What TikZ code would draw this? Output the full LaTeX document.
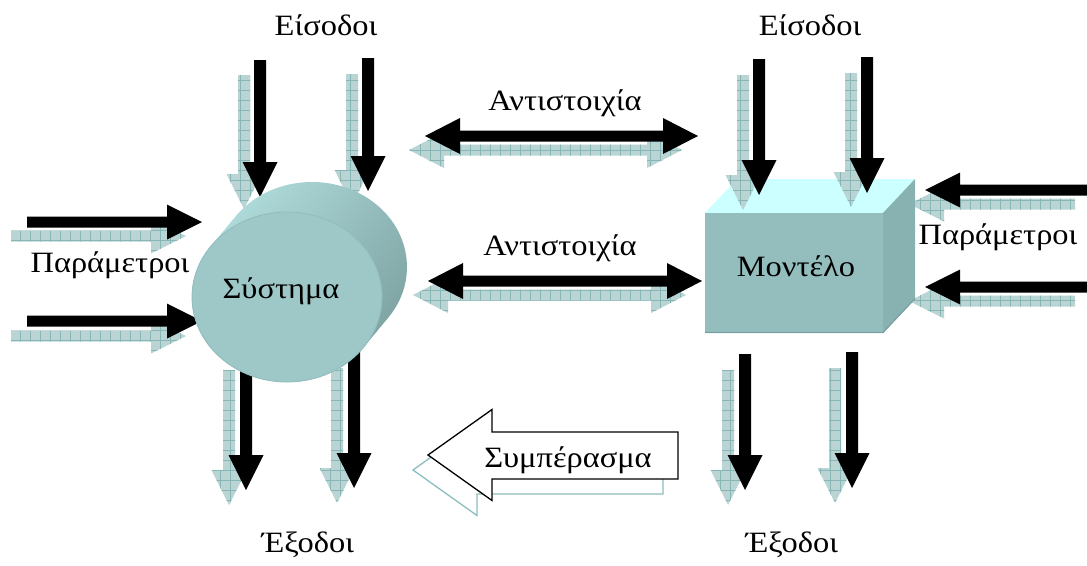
\documentclass[tikz,border=0pt]{standalone}
\usepackage{fontspec}
\setmainfont[FakeStretch=1.1]{Liberation Serif}
\usetikzlibrary{calc}

\definecolor{cylTop}{RGB}{180,224,224}
\definecolor{cylDark}{RGB}{122,158,158}
\definecolor{cylFace}{RGB}{158,200,200}
\definecolor{cylRim}{RGB}{146,188,188}
\definecolor{cubeFront}{RGB}{148,190,190}
\definecolor{cubeTop}{RGB}{204,255,255}
\definecolor{cubeSide}{RGB}{136,178,178}
\definecolor{cubeEdge}{RGB}{120,160,160}
\definecolor{shFill}{RGB}{186,212,212}
\definecolor{shGrid}{RGB}{134,182,182}
\definecolor{shLine}{RGB}{140,190,190}

\tikzset{
  lbl/.style={font=\fontsize{29.5}{34}\selectfont, inner sep=0pt},
  blackarr/.style={fill=black},
  shadowarr/.style={fill=shFill,
    path picture={\draw[shGrid, line width=0.5pt, step=10pt]
      (path picture bounding box.south west) grid (path picture bounding box.north east);}},
}

% block arrow pointing down: style, x centre, y top, y tip
\newcommand\blkdown[4]{\path[#1] (#2-6,#3) -- (#2+6,#3) -- (#2+6,#4-35) -- (#2+17.5,#4-35)
  -- (#2,#4) -- (#2-17.5,#4-35) -- (#2-6,#4-35) -- cycle;}
% block arrow pointing right: style, y centre, x start, x tip
\newcommand\blkright[4]{\path[#1] (#3,#2-5.5) -- (#4-35,#2-5.5) -- (#4-35,#2-17.5) -- (#4,#2)
  -- (#4-35,#2+17.5) -- (#4-35,#2+5.5) -- (#3,#2+5.5) -- cycle;}
% block arrow pointing left: style, y centre, x start, x tip
\newcommand\blkleft[4]{\path[#1] (#3,#2-5.5) -- (#4+35,#2-5.5) -- (#4+35,#2-17.5) -- (#4,#2)
  -- (#4+35,#2+17.5) -- (#4+35,#2+5.5) -- (#3,#2+5.5) -- cycle;}
% double-headed horizontal block arrow: style, y centre, x left tip, x right tip
\newcommand\blkboth[4]{\path[#1] (#3,#2) -- (#3+35,#2-18) -- (#3+35,#2-5.5) -- (#4-35,#2-5.5)
  -- (#4-35,#2-18) -- (#4,#2) -- (#4-35,#2+18) -- (#4-35,#2+5.5) -- (#3+35,#2+5.5)
  -- (#3+35,#2+18) -- cycle;}
% outlined "conclusion" arrow pointing left: style, x shift, y shift
\newcommand\concarrow[3]{\path[#1, shift={(#2,#3)}] (428,455) -- (492,409.5) -- (492,432)
  -- (678,432) -- (678,479) -- (492,479) -- (492,500.5) -- cycle;}

\begin{document}
\begin{tikzpicture}[x=1pt, y=-1pt]
\useasboundingbox (0,0) rectangle (1087,565);
\fill[white] (0,0) rectangle (1087,565);

% ---- arrows around the system (behind the cylinder) ----
\blkdown{shadowarr}{244}{75}{209}
\blkdown{shadowarr}{352}{74}{205}
\blkdown{shadowarr}{229}{370}{505}
\blkdown{shadowarr}{337}{368}{503}
\blkright{shadowarr}{236}{11}{186}
\blkright{shadowarr}{336}{11}{186}
\blkdown{blackarr}{260}{60}{197}
\blkdown{blackarr}{368}{58}{191}
\blkdown{blackarr}{246}{340}{490}
\blkdown{blackarr}{354}{340}{488}
\blkright{blackarr}{222}{27}{202}
\blkright{blackarr}{321}{27}{202}

% ---- correspondence arrows ----
\blkboth{shadowarr}{150}{409}{682}
\blkboth{blackarr}{136}{425}{698}
\blkboth{shadowarr}{295}{413}{686}
\blkboth{blackarr}{281}{428}{702}

% ---- conclusion arrow ----
\concarrow{draw=shLine, line width=1.3pt, fill=white}{-15}{15}
\concarrow{draw=black, line width=1.3pt, fill=white}{0}{0}

% ---- the system: a cylinder lying on its side ----
\shade[top color=cylTop, bottom color=cylDark, shading angle=50]
  (235.8,216.2) arc[start angle=143.3, end angle=-36.7, x radius=95pt, y radius=85pt]
  -- (363.2,347.8) arc[start angle=-36.7, end angle=-216.7, x radius=95pt, y radius=85pt]
  -- cycle;
\fill[cylFace, draw=cylRim, line width=0.8pt] (287,297) ellipse[x radius=95pt, y radius=85pt];

% ---- arrows on the right of the model (behind the box) ----
\blkleft{shadowarr}{204}{1075}{909}
\blkleft{shadowarr}{301}{1075}{909}
\blkleft{blackarr}{190}{1095}{925}
\blkleft{blackarr}{287}{1095}{925}
\blkdown{shadowarr}{728}{370}{505}
\blkdown{shadowarr}{835}{368}{503}
\blkdown{blackarr}{745}{354}{490}
\blkdown{blackarr}{852}{352}{488}

% ---- the model: a box ----
\fill[cubeTop] (705,213) -- (737,179) -- (915,179) -- (883,213) -- cycle;
\fill[cubeSide] (883,213) -- (915,179) -- (915,299) -- (883,333) -- cycle;
\fill[cubeFront] (705,213) rectangle (883,333);
\draw[cubeEdge, line width=1.2pt] (705,332.5) -- (883,332.5) -- (915,298.5);

% ---- inputs of the model (in front of the box) ----
\blkdown{shadowarr}{743}{75}{210}
\blkdown{shadowarr}{851}{73}{207}
\blkdown{blackarr}{759}{59}{195}
\blkdown{blackarr}{867}{57}{193}

% ---- labels ----
\node[lbl] (inL) at (326,25) {Είσοδοι};
\node[lbl] (inR) at (810,25) {Είσοδοι};
\node[lbl] (outL) at (308,545) {Έξοδοι};
\node[lbl] (outR) at (792,545) {Έξοδοι};
\node[lbl] (parL) at (110,265) {Παράμετροι};
\node[lbl] (parR) at (998,237) {Παράμετροι};
\node[lbl] (corr1) at (565,103) {Αντιστοιχία};
\node[lbl] (corr2) at (560,248) {Αντιστοιχία};
\node[lbl] (sys) at (281,291) {Σύστημα};
\node[lbl] (mod) at (796,266) {Μοντέλο};
\node[lbl] (concl) at (568,460) {Συμπέρασμα};
\end{tikzpicture}
\end{document}
